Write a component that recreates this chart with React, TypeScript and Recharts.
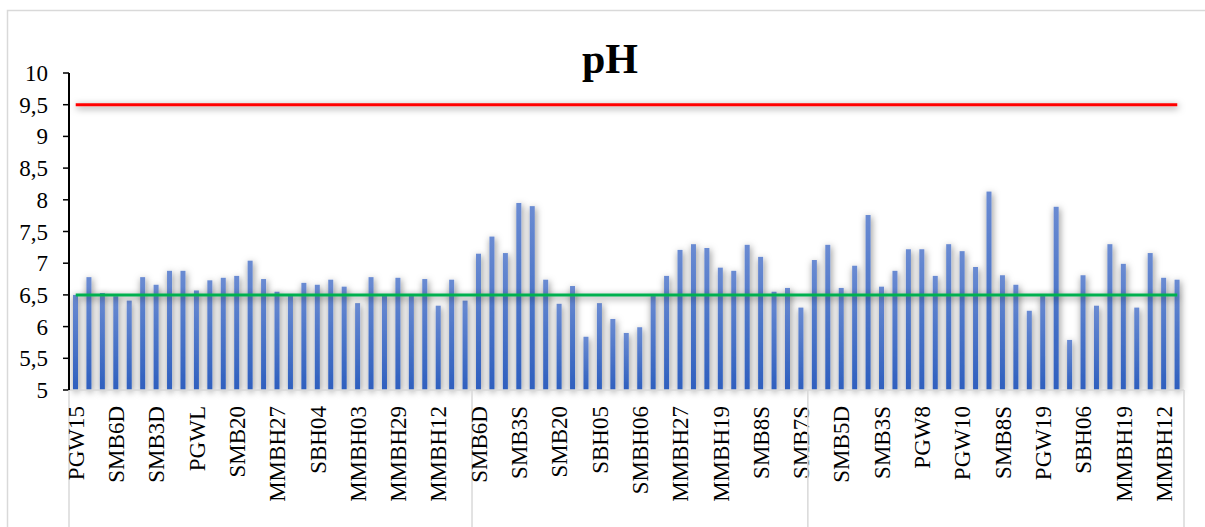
import React from 'react';
import { Bar, ComposedChart, Line, XAxis, YAxis } from 'recharts';

// pH per sampling point, left to right (three campaigns)
const phValues = [
  6.5, 6.78, 6.53, 6.48, 6.41, 6.78, 6.66, 6.88, 6.88, 6.57, 6.73, 6.77, 6.8, 7.04, 6.75,
  6.55, 6.5, 6.69, 6.66, 6.74, 6.63, 6.37, 6.78, 6.5, 6.77, 6.5, 6.75, 6.33, 6.74, 6.41,
  7.15, 7.42, 7.16, 7.95, 7.9, 6.74, 6.36, 6.64, 5.84, 6.37, 6.12, 5.9, 5.99, 6.5, 6.8,
  7.21, 7.3, 7.24, 6.93, 6.88, 7.29, 7.1, 6.55, 6.61, 6.3,
  7.05, 7.29, 6.61, 6.96, 7.76, 6.63, 6.88, 7.22, 7.22, 6.8, 7.3, 7.19, 6.94, 8.13, 6.81,
  6.66, 6.25, 6.5, 7.89, 5.79, 6.81, 6.33, 7.3, 6.99, 6.3, 7.16, 6.77, 6.74,
];

// every third category carries a label
const tickLabels = [
  'PGW15', 'SMB6D', 'SMB3D', 'PGWL', 'SMB20', 'MMBH27', 'SBH04', 'MMBH03', 'MMBH29', 'MMBH12',
  'SMB6D', 'SMB3S', 'SMB20', 'SBH05', 'SMBH06', 'MMBH27', 'MMBH19', 'SMB8S', 'SMB7S',
  'SMB5D', 'SMB3S', 'PGW8', 'PGW10', 'SMB8S', 'PGW19', 'SBH06', 'MMBH19', 'MMBH12',
];

const groupSizes = [30, 25, 28];
const lowerLimit = 6.5;
const upperLimit = 9.5;
const yTicks = [5, 5.5, 6, 6.5, 7, 7.5, 8, 8.5, 9, 9.5, 10];

const data = phValues.map((ph, i) => ({
  id: i,
  label: i % 3 === 0 ? tickLabels[i / 3] : '',
  ph,
  lo: lowerLimit,
  hi: upperLimit,
}));

const groupStarts = groupSizes.reduce<number[]>((acc, n) => [...acc, acc[acc.length - 1] + n], [0]);

const FONT = '"Liberation Serif", "Times New Roman", serif';

const CategoryTick = (props: any) => {
  const { x, y, payload } = props;
  const i: number = payload.value;
  const half = payload.offset || 6.72;
  const row = data[i];
  const lines: number[] = [];
  if (groupStarts.includes(i)) lines.push(x - half);
  if (i === data.length - 1) lines.push(x + half);
  return (
    <g>
      {lines.map(lx => (
        <line key={lx} x1={lx} x2={lx} y1={y} y2={y + 150} stroke='#d9d9d9' strokeWidth={1.5} />
      ))}
      {row && row.label && (
        <text
          x={x}
          y={y + 16}
          dy='0.35em'
          transform={`rotate(-90, ${x}, ${y + 16})`}
          textAnchor='end'
          fontFamily={FONT}
          fontSize={23}
          fill='#000'
        >
          {row.label}
        </text>
      )}
    </g>
  );
};

const ValueTick = (props: any) => {
  const { x, y, payload } = props;
  return (
    <text x={x} y={y} dy='0.35em' textAnchor='end' fontFamily={FONT} fontSize={23} fill='#000'>
      {String(payload.value).replace('.', ',')}
    </text>
  );
};

const BarShape = (props: any) => {
  const { x, y, width, height } = props;
  if (!height || height <= 0) return null;
  return <rect x={x} y={y} width={width} height={height} fill='url(#phBarGrad)' filter='url(#phShadow)' />;
};

const App = () => {
  return (
    <div
      style={{
        position: 'absolute',
        left: 0,
        top: 0,
        width: 1205,
        height: 527,
        overflow: 'hidden',
        background: '#fff',
        fontFamily: FONT,
      }}
    >
      <svg width={1205} height={527} style={{ position: 'absolute', left: 0, top: 0 }}>
        <defs>
          <linearGradient id='phBarGrad' x1='0' y1='0' x2='0' y2='1'>
            <stop offset='0%' stopColor='#6a8bd2' />
            <stop offset='100%' stopColor='#2e5fbe' />
          </linearGradient>
          <filter id='phShadow' filterUnits='userSpaceOnUse' x='0' y='0' width='1205' height='527'>
            <feDropShadow dx='1' dy='2' stdDeviation='3.5' floodColor='#000' floodOpacity='0.5' />
          </filter>
        </defs>
        <rect x={7.5} y={10.5} width={1220} height={540} fill='#fff' stroke='#d9d9d9' strokeWidth={1.5} />
        <text x={610} y={73} textAnchor='middle' fontFamily={FONT} fontWeight='bold' fontSize={42} fill='#000'>
          pH
        </text>
      </svg>
      <div style={{ position: 'absolute', left: 0, top: 0 }}>
        <ComposedChart width={1205} height={527} data={data} margin={{ top: 73, right: 21, bottom: 7, left: 0 }}>
          <XAxis
            dataKey='id'
            type='category'
            interval={0}
            height={130}
            tickLine={false}
            tickSize={0}
            tickMargin={0}
            axisLine={{ stroke: '#d9d9d9', strokeWidth: 1.5 }}
            tick={<CategoryTick />}
          />
          <YAxis
            domain={[5, 10]}
            ticks={yTicks}
            width={69}
            interval={0}
            tickSize={6}
            tickMargin={15}
            axisLine={{ stroke: '#000', strokeWidth: 2 }}
            tickLine={{ stroke: '#000', strokeWidth: 1.5 }}
            tick={<ValueTick />}
          />
          <Bar dataKey='ph' barSize={5} shape={<BarShape />} isAnimationActive={false} />
          <Line
            dataKey='lo'
            stroke='#00b050'
            strokeWidth={3}
            dot={false}
            activeDot={false}
            filter='url(#phShadow)'
            isAnimationActive={false}
          />
          <Line
            dataKey='hi'
            stroke='#ff0000'
            strokeWidth={3}
            dot={false}
            activeDot={false}
            filter='url(#phShadow)'
            isAnimationActive={false}
          />
        </ComposedChart>
      </div>
    </div>
  );
};

export default App;
